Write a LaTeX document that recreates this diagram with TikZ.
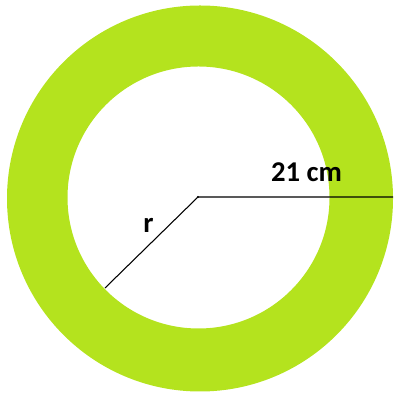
\documentclass[tikz,border=0pt]{standalone}
\usepackage{fontspec}
\setsansfont{Carlito}
\usepackage{tikz}
\usepackage{xcolor}
\usetikzlibrary{positioning}
\definecolor{Ring_Green}{HTML}{B4E31E}

\begin{document}
\begin{tikzpicture}[x=0.75pt, y=0.75pt,
    lbl/.style={font=\sffamily\bfseries\fontsize{21.5}{24}\selectfont, inner sep=0pt, anchor=base}]

    % picture is 393 x 398 px, origin bottom left
    \useasboundingbox (0,0) rectangle (393,398);

    % === green ring (outer 193, inner 131) ===
    \fill[Ring_Green, even odd rule] (200,199.5) circle (193) (198.5,200.5) circle (131);

    % === radii ===
    \coordinate (ctr) at (198,201);
    \coordinate (rim) at (393,201);
    \coordinate (inrim) at (105,110);
    \draw[line width=0.8pt] (rim) -- (ctr) -- (inrim);
    \fill (ctr) circle (1.2);

    \node[lbl] (outlbl) at (306.5,216) {21 cm};
    \node[lbl] (rlbl) at (148.5,165) {r};

\end{tikzpicture}
\end{document}
